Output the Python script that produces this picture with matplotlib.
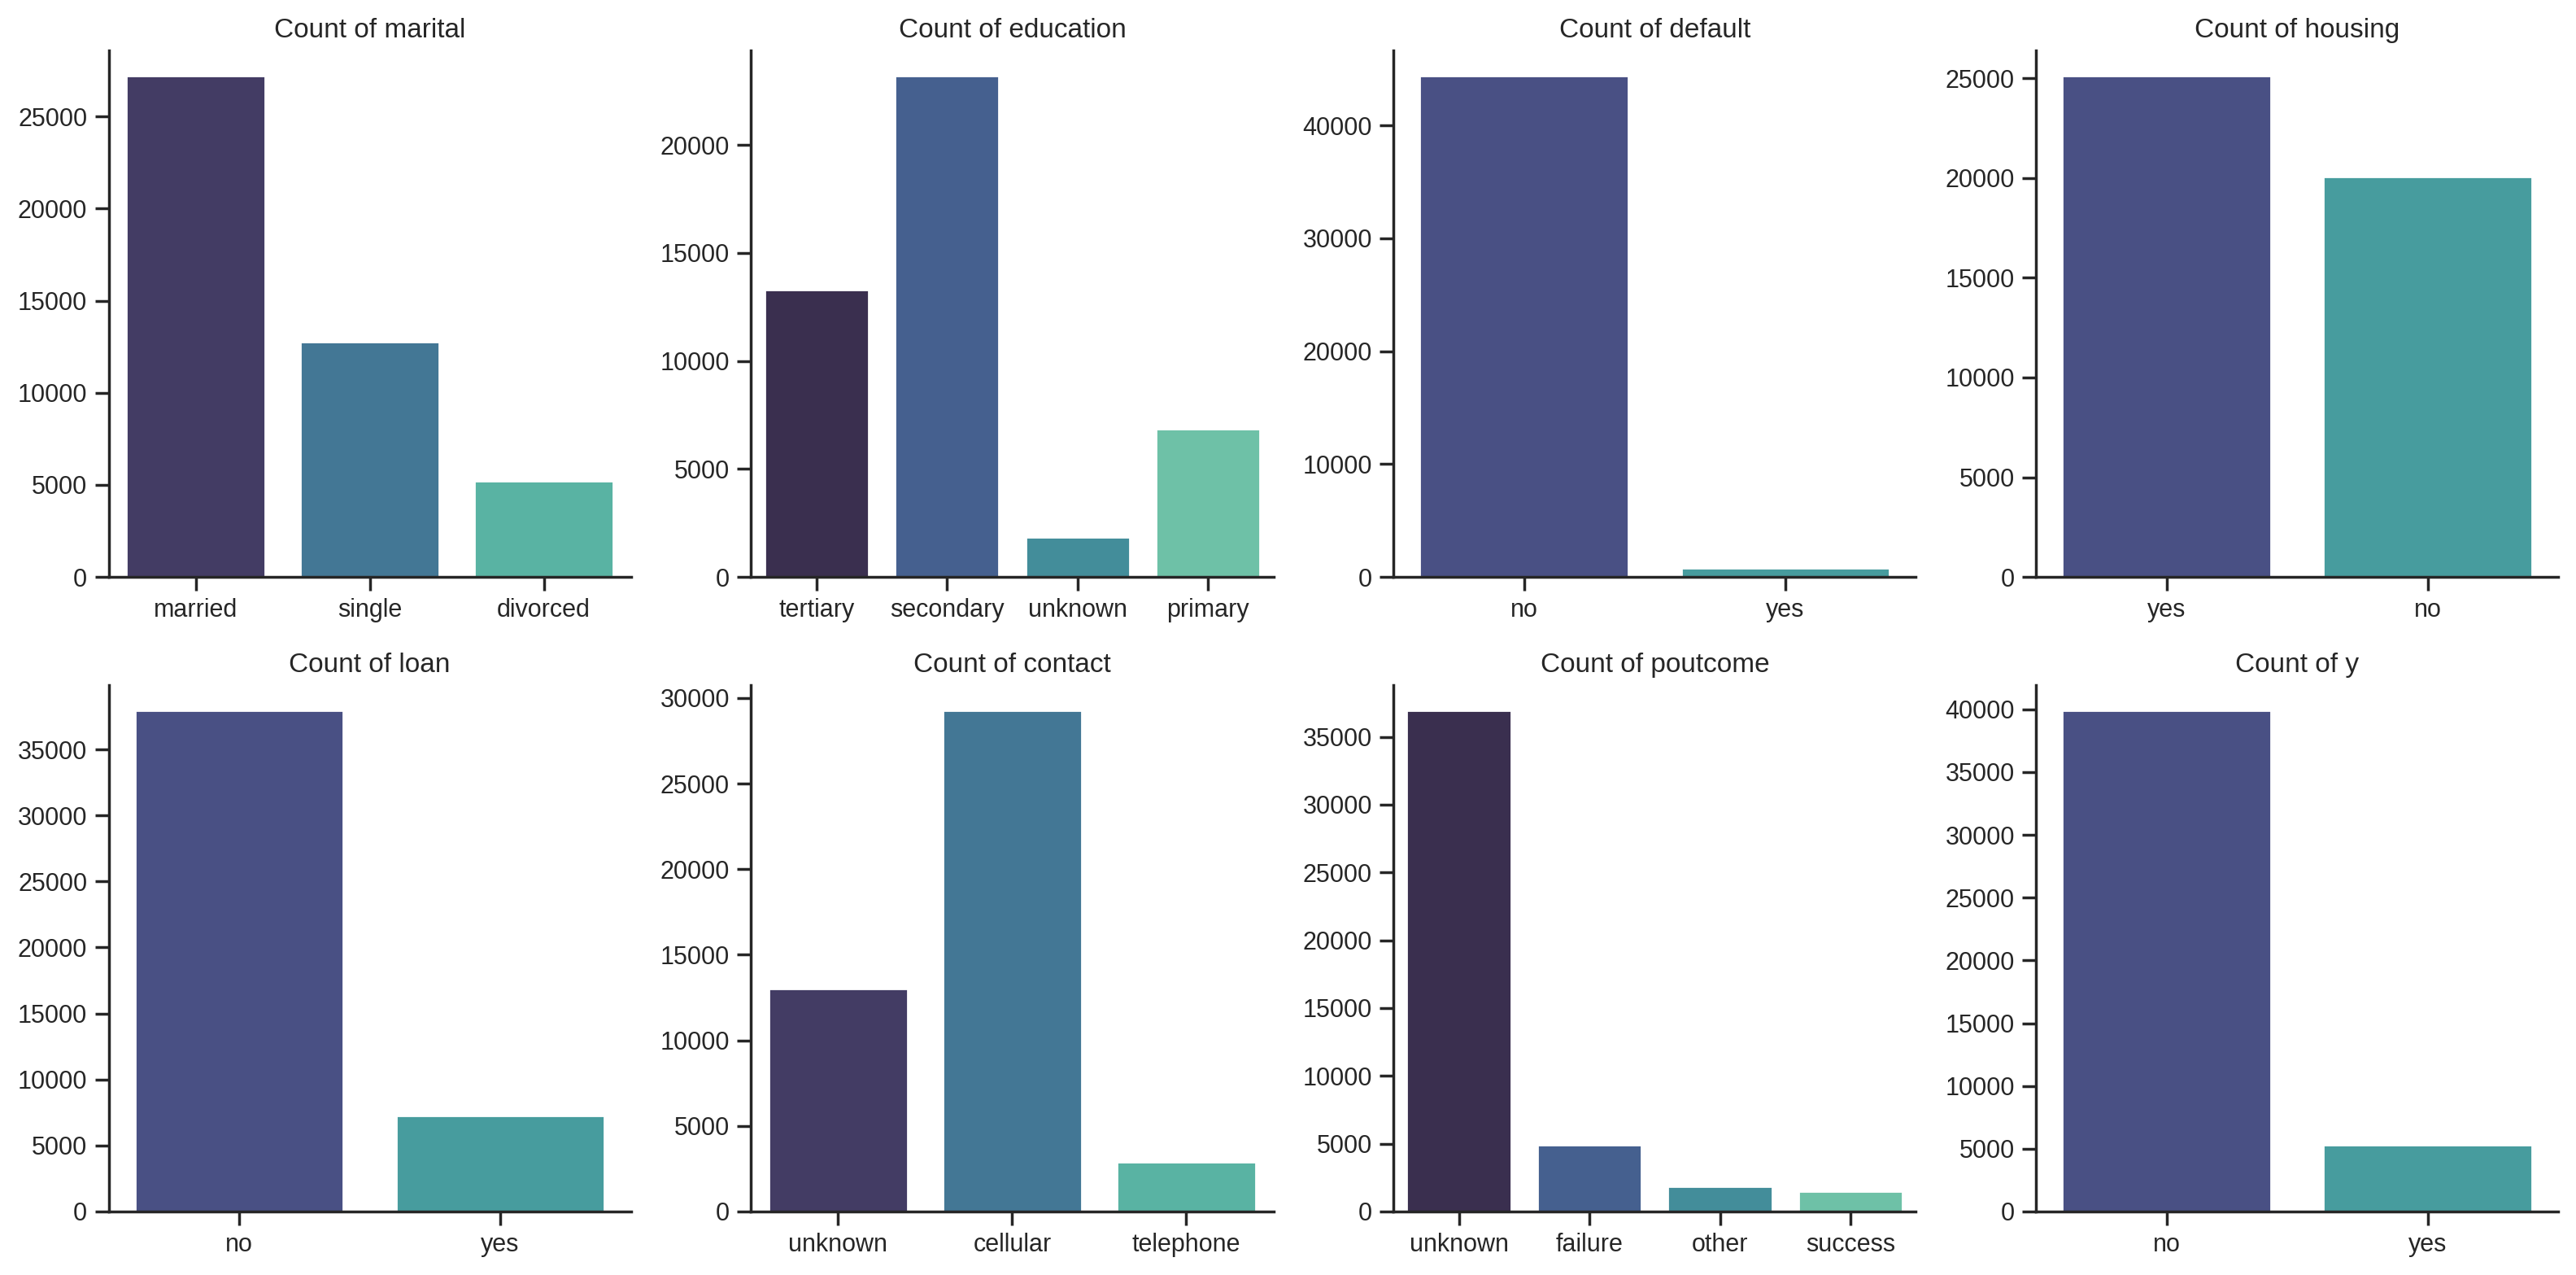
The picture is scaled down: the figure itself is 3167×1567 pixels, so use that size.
import matplotlib
matplotlib.use("Agg")
import matplotlib.pyplot as plt
import seaborn as sns

# counts per column (bank marketing data)
marital_cats = ["married", "single", "divorced"]
marital_counts = [27214, 12790, 5207]
education_cats = ["tertiary", "secondary", "unknown", "primary"]
education_counts = [13301, 23202, 1857, 6851]
default_cats = ["no", "yes"]
default_counts = [44396, 815]
housing_cats = ["yes", "no"]
housing_counts = [25130, 20081]
loan_cats = ["no", "yes"]
loan_counts = [37967, 7244]
contact_cats = ["unknown", "cellular", "telephone"]
contact_counts = [13020, 29285, 2906]
poutcome_cats = ["unknown", "failure", "other", "success"]
poutcome_counts = [36959, 4901, 1840, 1511]
y_cats = ["no", "yes"]
y_counts = [39922, 5289]

columns = [
    ("marital", marital_cats, marital_counts),
    ("education", education_cats, education_counts),
    ("default", default_cats, default_counts),
    ("housing", housing_cats, housing_counts),
    ("loan", loan_cats, loan_counts),
    ("contact", contact_cats, contact_counts),
    ("poutcome", poutcome_cats, poutcome_counts),
    ("y", y_cats, y_counts),
]

sns.set_theme(style="ticks")
plt.rcParams["font.family"] = ["Arial", "Liberation Sans", "DejaVu Sans"]

fig, axes = plt.subplots(2, 4, figsize=(15.835, 7.835), dpi=200)
for ax, (name, cats, counts) in zip(axes.flat, columns):
    sns.barplot(x=cats, y=counts, hue=cats, palette="mako", legend=False, ax=ax)
    ax.set_title(f"Count of {name}")
    ax.set_xlabel("")
    ax.set_ylabel("")
    sns.despine(ax=ax)

plt.tight_layout(pad=0.65, h_pad=1.08, w_pad=1.08)
plt.savefig("out.png", dpi=200)
